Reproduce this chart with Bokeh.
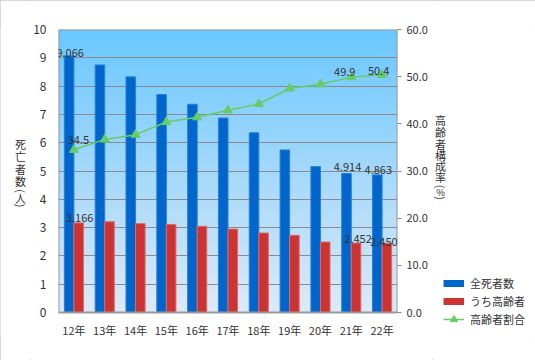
import numpy as np
from bokeh.plotting import figure
from bokeh.layouts import row
from bokeh.models import (Range1d, LinearAxis, FixedTicker, Legend, LegendItem,
                          NumeralTickFormatter, ColumnDataSource)
from bokeh.core.properties import value
from bokeh.embed import file_html
from bokeh.resources import INLINE

# ---- data ----
years = ["12年", "13年", "14年", "15年", "16年", "17年", "18年", "19年", "20年", "21年", "22年"]
all_deaths = [9.066, 8.747, 8.326, 7.702, 7.358, 6.871, 6.352, 5.744, 5.155, 4.914, 4.863]   # 千人
elderly_deaths = [3.166, 3.207, 3.140, 3.112, 3.046, 2.947, 2.809, 2.727, 2.490, 2.452, 2.450]
elderly_ratio = [34.5, 36.7, 37.7, 40.4, 41.4, 42.9, 44.2, 47.5, 48.4, 49.9, 50.4]          # %
labelled = [0, 9, 10]
left_ticks = [0, 1, 2, 3, 4, 5, 6, 7, 8, 9, 10]
right_ticks = [0, 10, 20, 30, 40, 50, 60]
left_title = ["死", "亡", "者", "数", "(", "人", ")"]
right_title = ["高", "齢", "者", "構", "成", "率", "(", "%", ")"]
series_names = ["全死者数", "うち高齢者", "高齢者割合"]

FONT = "Noto Sans CJK JP"
TXT = "#333333"
BLUE = "#0066cc"
RED = "#cc3333"
GREEN = "#66cc66"

# ---- layout (pixels) ----
H = 360
TOP, BOTTOM = 29, 24          # frame spans 29..336 in every panel of the row
PLOT_H = 283                  # visible plot area height (value 0 at y=312)
EXTRA = H - TOP - BOTTOM - PLOT_H
LEGEND_BOTTOM = 328
L_MAX, R_MAX = left_ticks[-1], right_ticks[-1]

idx = np.arange(len(years))
bw = 0.31
src = ColumnDataSource(dict(
    x=idx, xb=idx - bw / 2, xr=idx + bw / 2,
    total=all_deaths, old=elderly_deaths, ratio=elderly_ratio))

# ---------------- main chart ----------------
xr = Range1d(-0.5, len(years) - 0.5)
p = figure(width=402, height=H, output_backend="svg", toolbar_location=None,
           x_range=xr, y_range=Range1d(-EXTRA * L_MAX / PLOT_H, L_MAX),
           min_border_left=26, min_border_right=35, min_border_top=TOP, min_border_bottom=BOTTOM)
p.extra_y_ranges = {"pct": Range1d(-EXTRA * R_MAX / PLOT_H, R_MAX)}
p.background_fill_color = "white"
p.border_fill_color = "white"
p.outline_line_color = None

# gradient background of the plot area
n = 200
t = np.linspace(0, 1, n)[:, None]
top_c = np.array([106, 200, 255])
bot_c = np.array([222, 234, 247])
rgb = bot_c + (top_c - bot_c) * t
img = np.empty((n, 1), dtype=np.uint32)
view = img.view(dtype=np.uint8).reshape((n, 1, 4))
view[..., 0] = rgb[:, 0:1]
view[..., 1] = rgb[:, 1:2]
view[..., 2] = rgb[:, 2:3]
view[..., 3] = 255
p.image_rgba(image=[img], x=xr.start, y=0, dw=xr.end - xr.start, dh=L_MAX, level="image")

p.xgrid.grid_line_color = None
p.ygrid.grid_line_color = "#8a8a8a"
p.ygrid.grid_line_width = 1
p.ygrid.ticker = FixedTicker(ticks=left_ticks)

p.vbar(x="xb", top="total", width=bw, source=src, fill_color=BLUE, line_color="#2a7fd6", line_width=1)
p.vbar(x="xr", top="old", width=bw, source=src, fill_color=RED, line_color="#de6a6a", line_width=1)

# border of the plot area
p.quad(left=xr.start, right=xr.end, bottom=0, top=L_MAX, fill_color=None,
       line_color="#999999", line_width=2)

p.line(x="x", y="ratio", source=src, y_range_name="pct", line_color=GREEN, line_width=1.5)
p.scatter(x="x", y="ratio", source=src, y_range_name="pct", marker="triangle", size=9,
          fill_color=GREEN, line_color=GREEN)


def lab(vals, xs, fmt, xoff, yoff, yname="default"):
    s = ColumnDataSource(dict(x=[xs[i] for i in labelled], y=[vals[i] for i in labelled],
                              t=[fmt.format(vals[i]) for i in labelled],
                              xo=xoff, yo=yoff))
    p.text(x="x", y="y", text="t", source=s, x_offset="xo", y_offset="yo",
           text_align="center", text_baseline="alphabetic", text_font=value(FONT),
           text_font_size="11px", text_color=TXT, y_range_name=yname)


lab(all_deaths, list(idx - bw / 2), "{:.3f}", [1, 1, 1], [-2.5, -6, -4.5])
lab(elderly_deaths, list(idx + bw / 2), "{:.3f}", [1, 2, -3], [-4.5, -4.5, -1.5])
lab(elderly_ratio, list(idx), "{:.1f}", [4.5, -6.5, -3.5], [-10, -5.5, -3.5], "pct")

for ax in p.axis:
    ax.major_label_text_font = FONT
    ax.major_label_text_font_size = "11px"
    ax.major_label_text_color = TXT
    ax.axis_line_color = None
    ax.major_tick_line_color = None
    ax.minor_tick_line_color = None

p.yaxis.ticker = FixedTicker(ticks=left_ticks)
p.yaxis.major_label_text_font_size = "12px"
p.yaxis.major_label_standoff = 6

p.xaxis.ticker = FixedTicker(ticks=list(idx))
p.xaxis.major_label_overrides = {int(i): y for i, y in zip(idx, years)}
p.xaxis.major_label_standoff = 3
p.xaxis.fixed_location = 0

ra = LinearAxis(y_range_name="pct", ticker=FixedTicker(ticks=right_ticks),
                formatter=NumeralTickFormatter(format="0.0"))
ra.major_label_text_font = FONT
ra.major_label_text_font_size = "11px"
ra.major_label_text_color = TXT
ra.axis_line_color = None
ra.major_tick_line_color = "#888888"
ra.major_tick_out = 4
ra.major_tick_in = 0
ra.minor_tick_line_color = None
ra.major_label_standoff = 5
p.add_layout(ra, "right")


# ---------------- side strips (axis titles, legend) ----------------
def strip(w):
    f = figure(width=w, height=H, output_backend="svg", toolbar_location=None,
               x_range=Range1d(0, w), y_range=Range1d(H - BOTTOM, TOP),
               x_axis_location=None, y_axis_location=None, min_border=0,
               min_border_left=0, min_border_right=0,
               min_border_top=TOP, min_border_bottom=BOTTOM)
    f.grid.visible = False
    f.outline_line_color = None
    f.background_fill_color = "white"
    f.border_fill_color = "white"
    return f


def vtitle(f, chars, xc, ys, sizes):
    f.text(x=[xc] * len(chars), y=ys, text=chars,
           angle=[-np.pi / 2 if c in "()" else 0 for c in chars],
           text_font_size=sizes, text_align="center", text_baseline="middle",
           text_font=value(FONT), text_color=TXT)


lf = strip(30)
vtitle(lf, left_title, 20, [143, 155.5, 168, 180.5, 190.5, 197.5, 205],
       ["11px"] * len(left_title))

rf = strip(103)
vtitle(rf, right_title, 8, [119, 131, 143, 154.7, 165.7, 176.7, 186, 191.7, 197.5],
       ["11px"] * 7 + ["9.5px", "11px"])

nan2 = [np.nan, np.nan]
pb = rf.line(x=nan2, y=nan2, line_color=BLUE, line_width=7)
pr = rf.line(x=nan2, y=nan2, line_color=RED, line_width=7)
pl = rf.line(x=nan2, y=nan2, line_color=GREEN, line_width=1.5)
pt = rf.scatter(x=nan2, y=nan2, marker="triangle", size=9, fill_color=GREEN, line_color=GREEN)
leg = Legend(items=[LegendItem(label=value(series_names[0]), renderers=[pb]),
                    LegendItem(label=value(series_names[1]), renderers=[pr]),
                    LegendItem(label=value(series_names[2]), renderers=[pl, pt])],
             location=(11, H - BOTTOM - LEGEND_BOTTOM), padding=0, margin=0, spacing=0,
             glyph_width=21, glyph_height=18, label_height=18, label_standoff=6,
             label_text_font=FONT, label_text_font_size="11px", label_text_color=TXT,
             border_line_color=None, background_fill_alpha=0)
rf.add_layout(leg)

layout = row(lf, p, rf)
layout.styles = {"outline": "1px solid #cccccc", "outline-offset": "-1px"}

open("out.html", "w").write(file_html(layout, INLINE))
